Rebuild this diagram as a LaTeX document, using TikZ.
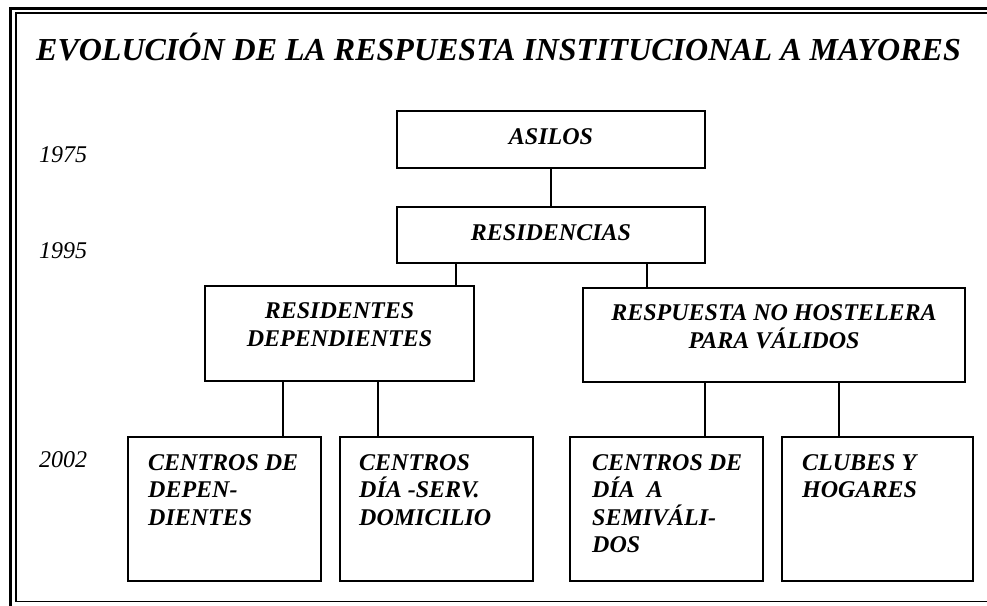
\documentclass[tikz,border=0pt]{standalone}
\usepackage{fontspec}
\setmainfont{Liberation Serif}
\begin{document}
\begin{tikzpicture}[x=1pt,y=-1pt,
  box/.style={draw, line width=2pt, rectangle, inner sep=0pt},
  lab/.style={font=\fontsize{24}{27.5}\selectfont\bfseries\itshape, inner sep=0pt},
  yr/.style={font=\fontsize{24}{27.5}\selectfont\itshape, inner sep=0pt, anchor=base west},
  conn/.style={line width=1.5pt}]
\useasboundingbox (0,0) rectangle (987,605);
% frame
\draw[line width=2.7pt] (10.7,8.3) rectangle (1020,640);
\draw[line width=1.8pt] (15.7,13) rectangle (1010,601.5);
% title
\node[lab, font=\fontsize{32}{36}\selectfont\bfseries\itshape, anchor=base west] (title) at (36,60) {EVOLUCIÓN DE LA RESPUESTA INSTITUCIONAL A MAYORES};
% years
\node[yr] (y1) at (39,162) {1975};
\node[yr] (y2) at (39,258) {1995};
\node[yr] (y3) at (39,467) {2002};
% boxes
\node[box, minimum width=308pt, minimum height=57pt] (as) at (551,139.5) {};
\node[box, minimum width=308pt, minimum height=56pt] (re) at (551,235) {};
\node[box, minimum width=269pt, minimum height=95pt] (rd) at (339.5,333.5) {};
\node[box, minimum width=382pt, minimum height=94pt] (rp) at (774,335) {};
\node[box, minimum width=193pt, minimum height=144pt] (b1) at (224.5,509) {};
\node[box, minimum width=193pt, minimum height=144pt] (b2) at (436.5,509) {};
\node[box, minimum width=193pt, minimum height=144pt] (b3) at (666.5,509) {};
\node[box, minimum width=191pt, minimum height=144pt] (b4) at (877.5,509) {};
% texts (base anchor = last line's baseline)
\node[lab, anchor=base] (tas) at (551,144) {ASILOS};
\node[lab, anchor=base] (tre) at (551,240) {RESIDENCIAS};
\node[lab, anchor=base, align=center] (trd) at (339.5,346) {RESIDENTES\\DEPENDIENTES};
\node[lab, anchor=base, align=center] (trp) at (774,348) {RESPUESTA NO HOSTELERA\\PARA VÁLIDOS};
\node[lab, anchor=base west, align=left] (tb1) at (148,525) {CENTROS DE\\DEPEN-\\DIENTES};
\node[lab, anchor=base west, align=left] (tb2) at (359,525) {CENTROS\\DÍA -SERV.\\DOMICILIO};
\node[lab, anchor=base west, align=left] (tb3) at (592,552.5) {CENTROS DE\\DÍA\ \ A\\SEMIVÁLI-\\DOS};
\node[lab, anchor=base west, align=left] (tb4) at (802,497.5) {CLUBES Y\\HOGARES};
% connectors
\draw[conn] (as.south) -- (re.north);
\draw[conn] (re.south -| 456,0) -- (rd.north -| 456,0);
\draw[conn] (re.south -| 647,0) -- (rp.north -| 647,0);
\draw[conn] (rd.south -| 283,0) -- (b1.north -| 283,0);
\draw[conn] (rd.south -| 378,0) -- (b2.north -| 378,0);
\draw[conn] (rp.south -| 705,0) -- (b3.north -| 705,0);
\draw[conn] (rp.south -| 839,0) -- (b4.north -| 839,0);
\end{tikzpicture}
\end{document}
